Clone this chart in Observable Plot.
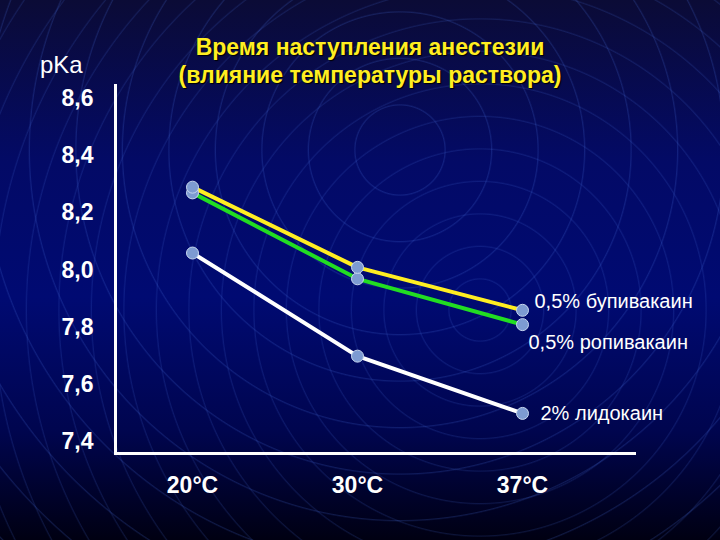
<!DOCTYPE html>
<html><head><meta charset="utf-8">
<script src="https://cdn.jsdelivr.net/npm/d3@7"></script>
<script src="https://cdn.jsdelivr.net/npm/@observablehq/plot@0.6"></script>
<style>
html,body{margin:0;padding:0;}
#wrap{position:relative;width:720px;height:540px;overflow:hidden;
 background:
  repeating-radial-gradient(circle at 400px 150px, rgba(70,110,220,0) 0px, rgba(70,110,220,0) 44px, rgba(70,110,220,0.22) 45px, rgba(70,110,220,0) 46.5px),
  repeating-radial-gradient(circle at 480px 310px, rgba(70,110,220,0) 0px, rgba(70,110,220,0) 30px, rgba(70,110,220,0.18) 31px, rgba(70,110,220,0) 32.5px),
  linear-gradient(to bottom, #0b0b36 0%, #030a66 30%, #000a72 55%, #00054e 80%, #000012 100%);
 font-family:"Liberation Sans",Arial,sans-serif;}
#title{position:absolute;left:0;width:740px;top:33px;text-align:center;color:#ffee22;font-weight:bold;font-size:23px;line-height:28px;text-shadow:1px 1px 1px #000;}
#pka{position:absolute;left:40px;top:51px;color:#fff;font-size:24px;}
#chart{position:absolute;left:0;top:0;}
</style></head>
<body><div id="wrap">
<div id="chart"></div>
<div id="title">Время наступления анестезии<br>(влияние температуры раствора)</div>
<div id="pka">pKa</div>
</div>
<script>
const temps = ["20°C", "30°C", "37°C"];
const bupivacaine = [8.29, 8.01, 7.86];
const ropivacaine = [8.27, 7.97, 7.81];
const lidocaine = [8.06, 7.70, 7.50];
const seriesNames = ["0,5% бупивакаин", "0,5% ропивакаин", "2% лидокаин"];
const seriesColors = ["#ffee22", "#22dd22", "#ffffff"];
const yTicks = [7.4, 7.6, 7.8, 8.0, 8.2, 8.4, 8.6];

const build = (vals, i) => vals.map((v, j) => ({temp: temps[j], value: v, series: seriesNames[i]}));
const bup = build(bupivacaine, 0), rop = build(ropivacaine, 1), lid = build(lidocaine, 2);
const fmt = d => d3.format(".1f")(d).replace(".", ",");

const chart = Plot.plot({
  width: 720, height: 540,
  marginLeft: 115, marginRight: 84, marginTop: 85, marginBottom: 87,
  style: {background: "transparent", color: "#fff", fontFamily: "'Liberation Sans', Arial, sans-serif"},
  x: {type: "point", domain: temps, range: [192, 522], padding: 0},
  y: {domain: [7.36, 8.645]},
  marks: [
    Plot.frame({anchor: "left", stroke: "#fff", strokeWidth: 3}),
    Plot.ruleY([7.36], {stroke: "#fff", strokeWidth: 3}),
    Plot.axisY({ticks: yTicks, tickFormat: fmt, tickSize: 0, tickPadding: 22, label: null,
      fontSize: 23, fontWeight: "bold", fill: "#fff"}),
    Plot.axisX({tickSize: 0, tickPadding: 23, label: null, fontSize: 23, fontWeight: "bold", fill: "#fff"}),
    Plot.line(lid, {x: "temp", y: "value", stroke: seriesColors[2], strokeWidth: 4}),
    Plot.line(rop, {x: "temp", y: "value", stroke: seriesColors[1], strokeWidth: 4}),
    Plot.line(bup, {x: "temp", y: "value", stroke: seriesColors[0], strokeWidth: 4}),
    Plot.dot([...lid, ...rop, ...bup], {x: "temp", y: "value", r: 6, fill: "#7d9bd2", stroke: "#c8d8f0", strokeWidth: 1}),
    Plot.text([bup[2]], {x: "temp", y: "value", text: "series", textAnchor: "start", dx: 12, dy: -9, fontSize: 20, fill: "#fff"}),
    Plot.text([rop[2]], {x: "temp", y: "value", text: "series", textAnchor: "start", dx: 6, dy: 18, fontSize: 20, fill: "#fff"}),
    Plot.text([lid[2]], {x: "temp", y: "value", text: "series", textAnchor: "start", dx: 18, dy: 0, fontSize: 20, fill: "#fff"})
  ]
});
document.getElementById("chart").appendChild(chart);
</script>
</body></html>
